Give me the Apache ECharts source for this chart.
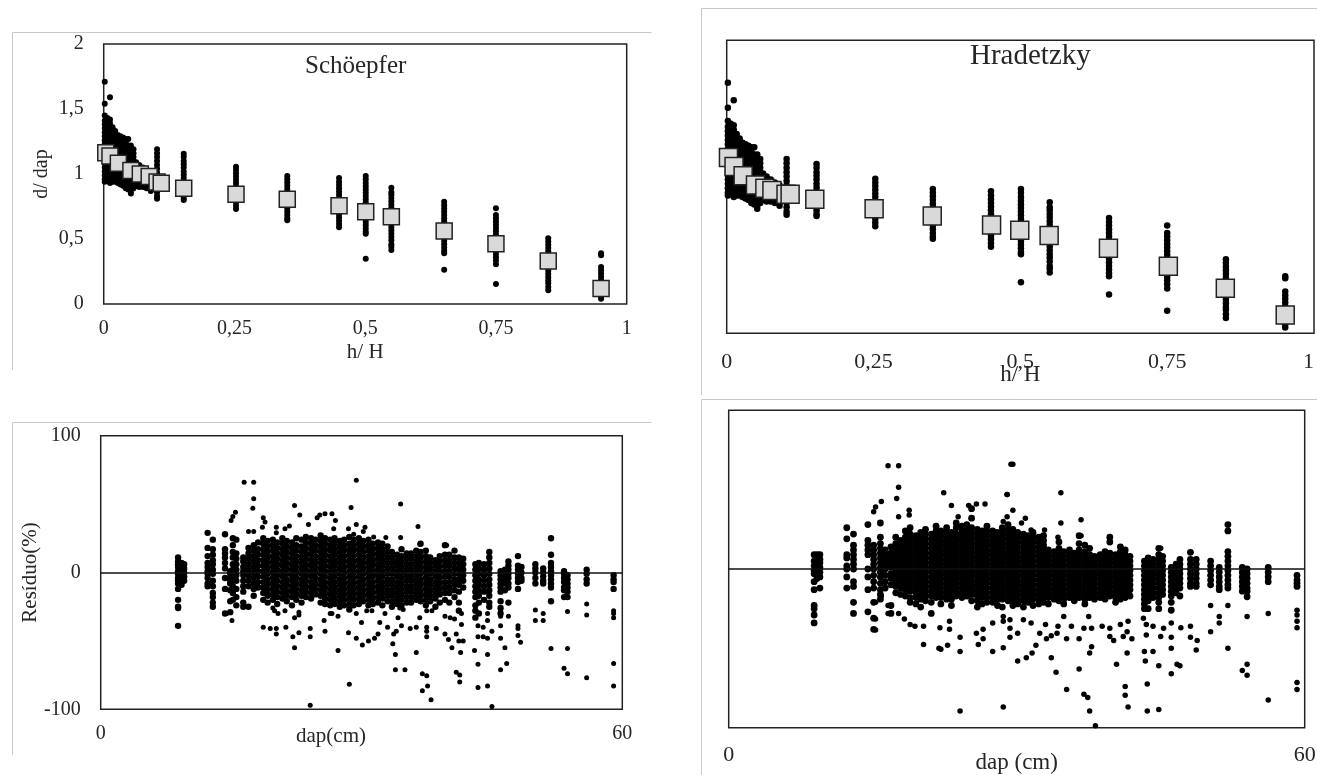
<!DOCTYPE html>
<html><head><meta charset="utf-8">
<script src="https://cdn.jsdelivr.net/npm/echarts@6/dist/echarts.min.js"></script>
<style>html,body{margin:0;padding:0;background:#fff}#c{width:1317px;height:775px}</style>
</head><body><div id="c"></div>
<script>
const hHTicks=['0','0,25','0,5','0,75','1'];
const dapTicks=['0','60'];
const measuredStations=[.002,.007,.012,.017,.022,.027,.032,.037,.042,.047,.052,.057,.062,.068,.075,.082,.09,.102,.153,.253,.351,.45,.501,.55,.651,.75,.85,.951];
const measuredRatios=[
[1.71,1.54,1.45,1.41,1.38,1.35,1.32,1.29,1.26,1.23,1.2,1.17,1.14,1.11,1.08,1.05,1.02,.99,.96,.94],
[1.43,1.4,1.37,1.34,1.31,1.28,1.25,1.22,1.19,1.16,1.13,1.1,1.07,1.04,1.01,.98,.95],
[1.59,1.42,1.39,1.36,1.33,1.3,1.27,1.24,1.21,1.18,1.15,1.12,1.09,1.06,1.03,1,.97,.93],
[1.36,1.33,1.3,1.27,1.24,1.21,1.18,1.15,1.12,1.09,1.06,1.03,1,.97,.94],
[1.33,1.3,1.27,1.24,1.21,1.18,1.15,1.12,1.09,1.06,1.03,1,.97,.94],
[1.3,1.27,1.24,1.21,1.18,1.15,1.12,1.09,1.06,1.03,1,.97,.93],
[1.29,1.26,1.23,1.2,1.17,1.14,1.11,1.08,1.05,1.02,.99,.96,.92],
[1.28,1.25,1.22,1.19,1.16,1.13,1.1,1.07,1.04,1.01,.98,.95,.91],
[1.27,1.24,1.21,1.18,1.15,1.12,1.09,1.06,1.03,1,.97,.94,.89],
[1.27,1.22,1.19,1.16,1.13,1.1,1.07,1.04,1.01,.98,.95,.92,.88],
[1.22,1.19,1.16,1.13,1.1,1.07,1.04,1.01,.98,.95,.91,.87,.85],
[1.19,1.16,1.13,1.1,1.07,1.04,1.01,.98,.95,.92,.89],
[1.09,1.06,1.03,1,.97,.94,.91],
[1.07,1.04,1.01,.98,.95,.92,.9],
[1.05,1.02,.99,.96,.93,.9],
[1.03,1,.97,.94,.91,.89],
[1.01,.98,.95,.92,.89,.87],
[1.19,1.16,1.13,1.1,1.07,1.04,1.01,.98,.95,.92,.89,.86,.83,.81],
[1.155,1.13,1.1,1.075,1.05,1.02,.995,.97,.94,.915,.89,.865,.84,.815,.8],
[1.055,1.03,1.005,.98,.955,.93,.905,.88,.855,.83,.805,.78,.755,.73],
[.985,.96,.935,.91,.885,.86,.835,.81,.785,.76,.735,.71,.685,.66,.645],
[.97,.94,.915,.89,.865,.84,.815,.79,.765,.74,.715,.69,.665,.64,.615,.59],
[.985,.96,.93,.905,.88,.855,.83,.805,.78,.755,.73,.705,.68,.655,.63,.605,.58,.555,.54,.349],
[.895,.86,.84,.815,.79,.765,.74,.715,.69,.665,.64,.615,.59,.565,.54,.515,.49,.46,.44,.415],
[.787,.76,.735,.71,.685,.66,.635,.61,.585,.56,.535,.51,.485,.46,.435,.41,.39,.264],
[.736,.685,.66,.635,.61,.585,.56,.535,.51,.485,.46,.435,.41,.385,.36,.335,.305,.154],
[.505,.48,.455,.43,.405,.38,.355,.33,.305,.28,.255,.23,.205,.18,.16,.13,.105],
[.39,.375,.285,.26,.235,.21,.185,.16,.135,.11,.085,.06,.04]
];
const schoepferMeanX=[.004,.012,.028,.052,.07,.087,.102,.11,.153,.253,.351,.45,.501,.55,.651,.75,.85,.951];
const schoepferMeanY=[1.164,1.138,1.082,1.026,1,.98,.938,.928,.89,.844,.805,.756,.71,.672,.562,.464,.33,.12];
const hradetzkyMeanX=[.003,.0125,.028,.049,.065,.077,.101,.108,.15,.251,.35,.451,.499,.549,.65,.752,.849,.951];
const hradetzkyMeanY=[1.2,1.138,1.076,1.012,.99,.974,.949,.949,.915,.851,.8,.74,.703,.667,.58,.457,.307,.125];

const schoepferDap=[8.9,9.3,9.6,12.3,12.9,14.3,14.9,15.2,15.6,16.4,17,17.6,18.1,18.7,19.2,19.8,20.3,20.9,21.4,22,22.5,23.1,23.6,24.2,24.7,25.3,25.8,26.4,26.9,27.5,28,28.6,29.1,29.7,30.2,30.8,31.3,31.9,32.4,33,33.5,34.1,34.6,35.2,35.7,36.3,36.8,37.4,37.9,38.5,39,39.6,40.1,40.7,41.2,41.7,43.1,43.5,44.1,44.7,46,46.5,46.9,48,48.4,50,50.9,51.8,53.3,53.7,55.9,59];
const schoepferResidual=[
[11,8,6,4,1,-1,-4,-6,-8,-12,-20,-25,-26,-39],
[7,4,2,0,-2,-5,-9],[6,3,0,-3,-6],
[29,18,12,7,4,1,-1,-4,-8,-10],
[24,17,13,9,6,2,-1,-6,-10,-15,-18,-22,-25],
[28,17,14,11,7,3,-4,-12,-30],
[1,-1,-4,-6,-8,-13,-29,-21],
[25,20,15,11,6,2,-2,-6,-10,-15,-20],
[24,14,10,6,2,-2,-6,-12,-18,-24],
[11,8,4,1,-2,-6,-10,-14,-22,-25],
[18,14,10,6,2,-2,-6,-10,-25],
[20,16,12,8,4,0,-4,-8,-12,-17],
[22,17,13,9,5,1,-3,-7,-11],
[25,21,17,13,9,5,1,-3,-7,-11,-15,-20],
[23,19,15,11,7,3,-1,-5,-9,-13,-17,-22],
[24,20,16,12,8,4,0,-4,-8,-12,-16,-20],
[22,18,14,10,6,2,-2,-6,-10,-14,-18,-23],
[25,21,17,13,9,5,1,-3,-7,-11,-15,-19],
[23,19,15,11,7,3,-1,-5,-9,-13,-17,-21],
[22,18,14,10,6,2,-2,-6,-10,-14,-18,-24],
[25,20,16,12,8,4,0,-4,-8,-12,-16,-20],
[24,19,15,11,7,3,-1,-5,-9,-13,-17,-22],
[26,22,18,14,10,6,2,-2,-6,-10,-14,-18],
[25,21,17,13,9,5,1,-3,-7,-11,-15,-19],
[24,20,16,12,8,4,0,-4,-8,-12,-16],
[27,23,19,15,11,7,3,-1,-5,-9,-13,-17,-22],
[25,21,17,13,9,5,1,-3,-7,-11,-15,-19,-23],
[24,20,16,12,8,4,0,-4,-8,-12,-16,-20,-24],
[25,21,17,13,9,5,1,-3,-7,-11,-15,-19,-23],
[23,19,15,11,7,3,-1,-5,-9,-13,-17,-21,-25],
[24,20,16,12,8,4,0,-4,-8,-12,-16,-20,-24],
[26,21,17,13,9,5,1,-3,-7,-11,-15,-19,-23,-27],
[24,20,16,12,8,4,0,-4,-8,-12,-16,-20,-24],
[25,21,17,13,9,5,1,-3,-7,-11,-15,-19,-23],
[23,19,15,11,7,3,-1,-5,-9,-13,-17,-21],
[24,20,16,12,8,4,0,-4,-8,-12,-16,-20,-24],
[21,17,13,9,5,1,-3,-7,-11,-15,-19,-23],
[22,18,14,10,6,2,-2,-6,-10,-14,-18,-22],
[21,17,13,9,5,1,-3,-7,-11,-15,-19,-24],
[19,15,11,7,3,-1,-5,-9,-13,-17,-21],
[15,11,7,3,-1,-5,-9,-13,-17,-21,-25],
[13,9,5,1,-3,-7,-11,-15,-19,-23],
[17,12,8,4,0,-4,-8,-12,-16,-20,-24],
[14,10,6,2,-2,-6,-10,-14,-18,-22],
[14,10,6,2,-2,-6,-10,-14,-18,-22],
[16,12,8,4,0,-4,-8,-12,-16,-20],
[21,15,11,7,3,-1,-5,-9,-13,-17,-21],
[16,12,8,4,0,-4,-8,-12,-16,-20,-24],
[11,7,3,-1,-5,-9,-13,-17,-21],
[9,5,1,-3,-7,-11,-15,-19,-25],
[12,8,4,0,-4,-8,-12,-16,-22],
[20,13,9,5,1,-3,-7,-11,-15,-20],
[13,9,5,1,-3,-7,-11,-15,-22],
[16,11,7,3,-1,-5,-9,-13,-18],
[11,7,3,-1,-5,-9,-14,-22,-28],
[10,6,2,-2,-6,-11],
[6,2,-2,-6,-10,-14,-18,-24,-28,-33],
[7,3,-1,-5,-9,-13,-17,-22,-30],
[6,2,-2,-6,-10,-14,-20],
[15,11,7,3,-1,-5,-9,-13,-17,-22,-25],
[1,-2,-5,-8,-11,-14,-21,-26,-30],
[2,-1,-4,-8,-13],
[8,5,2,-1,-4,-8,-11,-22],
[12,5,2,-1,-4,-7,-12],[4,0,-4,-6],
[6,3,0,-4,-8],[3,0,-3,-6,-8],
[25,13,7,4,1,-2,-5,-8,-11,-21],
[1,-1,-4,-7,-11,-13,-18],
[-2,-5,-8,-11,-14,-18],
[2,-1,-5,-8],[-2,-5,-7,-12]
];
const schoepferOutliers=[[15,38],[15.2,41],[15.5,44],[14.5,-30],[15.1,-35],[16.5,66],[17.6,66],[17.6,54],[17.5,47],[17,30],[17.6,30],[18.7,40],[18.9,37],[18.6,33],[22.3,49],[22.9,42],[25.8,43],[24.9,40],[25.2,42],[23.9,35],[21.7,34],[20.2,33],[20.2,29],[21.2,32],[18.7,-40],[19.5,-41],[20.2,-41],[20.2,-45],[21.3,-40],[22.1,-47],[22.3,-55],[22.8,-44],[24.1,-41],[24.1,-47],[24.1,-97],[25.8,-43],[25.7,-35],[26.4,-30],[22.3,-33],[22.8,-31],[22.8,-29],[20,-28],[20.4,-30],[21.2,-28],[19.8,-26],[26.6,43],[27,38],[26.8,32],[29.4,67.5],[28.8,47.5],[29.4,35],[28.5,32],[29.1,28],[30.4,33],[30.2,30],[31.4,26],[32.8,25.6],[34.5,50],[34.5,25.6],[36.5,33.6],[36.7,20.7],[39.8,20],[40.7,16],[27.3,-32],[27.3,-57],[28.6,-81.6],[28.5,-44],[29.4,-48],[30.1,-53],[30.8,-50],[31.5,-48],[31.9,-45],[32.1,-36.5],[33,-40],[33.6,-52],[33.7,-45],[34,-43],[33.9,-60],[33.9,-71],[35,-71],[34.6,-39],[35.6,-41],[36.3,-58.5],[36.3,-40],[37,-74],[37.5,-75.5],[37.6,-83],[37,-86.5],[38,-93],[37.5,-40],[37.5,-43],[37.5,-47],[38.6,-41],[39.6,-45],[40,-49],[40.4,-55],[41.4,-58.5],[40.9,-45],[41.2,-50],[41.7,-50],[40.9,-73],[41.3,-75],[41.3,-80],[43,-57],[43.4,-39],[43.4,-47],[43.4,-67],[43.4,-84],[44,-40],[44,-47],[44.5,-30],[44.5,-35],[44.5,-48],[44.5,-60],[44.5,-83],[45,-43],[45,-98],[36.7,-33],[37.5,-28],[38.1,-28],[39.6,-32],[40.2,-33],[40.7,-34],[41.5,-30],[41.5,-38],[29.4,-30],[30,-36.5],[30.6,-28],[31.2,-28],[32.7,-30],[34.2,-33],[34.4,-26],[34.8,-27],[26.6,-30],[46,-28],[46,-32],[46,-39],[46,-48],[46,-71],[46.5,-55],[46.7,-66.5],[46.9,-32],[48,-39],[48,-41],[48,-46],[48.3,-51],[48,12],[50,-27.5],[50,-35],[50.9,-30],[50.9,-35],[51.8,25],[51.8,-55.5],[53.3,-70],[53.7,-55.5],[53.7,-74],[53.7,-28.5],[55.9,-23],[55.9,-31],[55.9,-77],[59,-28],[59,-30],[59,-33],[59,-66.5],[59,-83]];

const hradetzkyDap=[8.9,9.2,9.5,12.3,13,14.5,15.1,15.8,16.3,16.9,17.4,17.9,18.4,18.9,19.5,20,20.5,21.1,21.6,22.1,22.7,23.2,23.7,24.3,24.8,25.3,25.9,26.4,26.9,27.5,28,28.5,29.1,29.6,30.1,30.7,31.2,31.7,32.3,32.8,33.3,33.9,34.4,34.9,35.5,36,36.5,37.1,37.6,38.1,38.7,39.2,39.7,40.3,40.8,41.3,41.8,43.3,43.7,44.2,44.8,45.2,46.1,46.6,47,48.1,48.7,50.2,51.1,52,53.5,54,56.2,59.2];
const hradetzkyResidual=[
[9,5,2,-1,-3,-8,-13,-23,-25,-29,-34],
[9,6,3,0,-2,-4,-6],[9,6,4,1,-2,-5,-12],
[26,19,9,7,2,0,-5,-12],
[22,15,12,9,6,3,0,-8,-11,-21,-28],
[28,18,15,12,9,0,-5,-13,-27],
[15,12,9,6,3,0,-4,-8,-12,-21,-31,-38],
[29,20,16,13,10,7,4,1,-2,-5,-9,-13,-16,-19],
[12,9,6,3,0,-4,-8,-12],
[14,10,7,4,1,-3,-6,-10,-23,-28],
[20,16,13,10,7,4,1,-2,-5,-8,-11,-15],
[18,15,12,9,6,3,0,-3,-6,-9,-12,-16],
[24,20,17,14,11,8,5,2,-1,-4,-7,-10,-13,-17],
[26,22,19,16,13,10,7,4,1,-2,-5,-8,-11,-14,-18,-21],
[21,18,15,12,9,6,3,0,-3,-6,-9,-12,-15,-18,-22],
[23,20,17,14,11,8,5,2,-1,-4,-7,-10,-13,-16,-19,-24],
[25,22,19,16,13,10,7,4,1,-2,-5,-8,-11,-14,-17,-20],
[22,19,16,13,10,7,4,1,-2,-5,-8,-11,-14,-17,-21,-28],
[27,24,21,18,15,12,9,6,3,0,-3,-6,-9,-12,-15,-18],
[24,21,18,15,12,9,6,3,0,-3,-6,-9,-12,-15,-18,-22],
[26,23,20,17,14,11,8,5,2,-1,-4,-7,-10,-13,-16,-19],
[23,20,17,14,11,8,5,2,-1,-4,-7,-10,-13,-16,-19,-23],
[29,26,22,19,16,13,10,7,4,1,-2,-5,-8,-11,-14,-17],
[27,24,21,18,15,12,9,6,3,0,-3,-6,-9,-12,-15,-18],
[28,25,22,19,16,13,10,7,4,1,-2,-5,-8,-11,-14,-17],
[38,32,26,23,20,17,14,11,8,5,2,-1,-4,-7,-10,-13,-16,-20],
[25,22,19,16,13,10,7,4,1,-2,-5,-8,-11,-14,-17,-20,-24],
[24,21,18,15,12,9,6,3,0,-3,-6,-9,-12,-15,-18,-22],
[27,24,21,18,15,12,9,6,3,0,-3,-6,-9,-12,-15,-18,-21],
[24,21,18,15,12,9,6,3,0,-3,-6,-9,-12,-15,-18,-21],
[23,20,17,14,11,8,5,2,-1,-4,-7,-10,-13,-16,-19,-23],
[26,23,20,17,14,11,8,5,2,-1,-4,-7,-10,-13,-16,-19,-24],
[28,25,22,19,16,13,10,7,4,1,-2,-5,-8,-11,-14,-17,-20],
[25,22,19,16,13,10,7,4,1,-2,-5,-8,-11,-14,-17,-20,-23],
[23,20,17,14,11,8,5,2,-1,-4,-7,-10,-13,-16,-19,-22],
[22,19,16,13,10,7,4,1,-2,-5,-8,-11,-14,-17,-20,-24],
[21,18,15,12,9,6,3,0,-3,-6,-9,-12,-15,-18,-21],
[23,20,17,14,11,8,5,2,-1,-4,-7,-10,-13,-16,-19,-23],
[20,17,14,11,8,5,2,-1,-4,-7,-10,-13,-16,-19,-22],
[21,18,15,12,9,6,3,0,-3,-6,-9,-12,-15,-18,-21],
[12,9,6,3,0,-3,-6,-9,-12,-15,-18,-22],
[11,8,5,2,-1,-4,-7,-10,-13,-16,-19],
[17,13,10,7,4,1,-2,-5,-8,-11,-14,-17,-20],
[11,8,5,2,-1,-4,-7,-10,-13,-16,-19,-22],
[12,9,6,3,0,-3,-6,-9,-12,-15,-18],
[10,7,4,1,-2,-5,-8,-11,-14,-17,-20],
[21,16,12,9,6,3,0,-3,-6,-9,-12,-15,-18],
[15,11,8,5,2,-1,-4,-7,-10,-13,-16,-19,-22],
[13,9,6,3,0,-3,-6,-9,-12,-15,-18],
[8,5,2,-1,-4,-7,-10,-13,-16,-19],
[9,6,3,0,-3,-6,-9,-12,-15,-18],
[11,8,5,2,-1,-4,-7,-10,-13,-16,-19],
[20,17,10,7,4,1,-2,-5,-8,-11,-14,-17],
[9,6,3,0,-3,-6,-9,-12,-15,-18,-21],
[14,11,8,5,2,-1,-4,-7,-10,-13,-16,-19],
[12,9,6,3,0,-3,-6,-9,-12,-15,-18],
[8,5,2,-1,-4,-7,-10,-13,-17],
[5,2,-1,-4,-7,-10,-13,-16,-19,-22,-25],
[7,4,1,-2,-5,-8,-11,-14,-17,-20,-25],
[6,3,0,-3,-6,-9,-12,-15,-18],
[13,9,6,3,0,-3,-6,-9,-12,-15,-18,-21,-25],
[8,5,2,-1,-4,-7,-10,-13,-16],
[1,-2,-5,-8,-11,-14,-17,-21,-26],
[3,0,-3,-6,-9,-12,-15],
[6,3,0,-3,-6,-9,-12,-17],
[10.5,6,3,0,-3,-6,-9,-11],
[6,3,0,-3,-6,-9,-11],
[5,2,-1,-4,-7,-10],
[1,-2,-5,-8,-11,-13],
[28,24,11,8,5,2,-1,-4,-7,-10,-12],
[1,-2,-5,-8,-11,-14],
[0,-3,-6,-9,-12,-14,-17.5],
[1,-2,-5,-8],
[-4,-7,-9,-11]
];
const hradetzkyOutliers=[[15.1,36],[15.3,39],[15.9,42.5],[15.3,-21],[15.3,-31.5],[15.3,-38.5],[15.9,-17],[16.6,65],[17.7,65],[17.7,51.5],[17.5,44.5],[17.7,33],[16.6,-23],[16.6,-28],[17.7,-28],[18.3,-31.5],[18.9,-35],[19.4,-36],[20.3,-47.5],[20.3,-36],[21.9,-50],[22.1,-50.5],[22.8,-48],[22,-37],[23,-33],[23,-38],[24.1,-43],[24.1,-52],[24.1,-89.5],[25.8,-40.5],[26,-47.5],[26.5,-44],[26.5,-38],[27.5,-52],[27.5,-34],[28.6,-49.6],[28.6,-87],[22.4,48],[23.2,40],[25,40],[25.8,41],[26.7,41],[29,47],[29.4,66],[18.8,37],[18.8,34],[23.9,33],[29.6,66],[29,47],[29.6,37],[29,33],[28.6,30],[30.9,32],[30.5,29],[31.5,24.6],[32.9,24.6],[34.6,48],[34.6,29],[36.7,31],[34.3,20],[36.7,21],[39.7,20],[40.8,14],[30.1,-58],[31,-56],[31.6,-53],[32,-48],[34.1,-65],[33.6,-56],[35.2,-76],[36.5,-63],[37,-79],[37.4,-81],[37.6,-89.5],[38.2,-98.7],[37.6,-53],[37.8,-49],[40.4,-60],[41.3,-74],[41.3,-79.5],[41.6,-87],[41.5,-53],[43.3,-52],[44.2,-52],[43.4,-58],[43.6,-72.5],[43.6,-89.5],[44.8,-88.5],[44.8,-61],[46.1,-66],[46.7,-60],[47,-61],[46.1,-50],[46.1,-43],[46.1,-34],[47.1,-37],[48.1,-36],[48.1,-43],[48.8,-45],[48.7,-51],[50.2,-39.5],[50.2,-23],[51.1,-30],[51.1,-34],[52,-23],[52,-50],[53.5,-64],[54,-67],[54,-60],[54,-30],[56.2,-28],[56.2,-82.5],[56.2,1],[56.2,-3],[56.2,-6],[59.2,-4],[59.2,-7],[59.2,-10],[59.2,-26],[59.2,-29],[59.2,-33],[59.2,-37],[59.2,-71.5],[59.2,-76],[48.1,10.5],[45,13],[28.6,-30],[28.6,-33],[29.3,-32],[29.3,-37.4],[29.3,-43],[30.1,-40.5],[30.7,-32],[31.5,-34],[32.4,-40.5],[33,-35],[33.1,-44],[33.6,-42],[34.2,-40.5],[34.3,-36],[34.9,-30],[35.2,-44],[35.7,-36],[36.5,-44],[37,-37.4],[37.5,-30],[37.8,-37.4],[38.9,-36],[39.7,-37.4],[39.7,-42.6],[40.1,-45],[40.8,-35],[41.1,-42.6],[41.5,-39.5],[42,-44],[41.6,-33],[43.2,-31],[43.5,-35],[43.5,-41.6],[44.2,-36],[45,-42.6],[45.3,-37.4]];

const flatten=(xs,ys)=>xs.flatMap((x,i)=>ys[i].map(y=>[x,y]));
const zip=(xs,ys)=>xs.map((x,i)=>[x,ys[i]]);
const FONT='"Liberation Serif"';
const TXT='#262626';
const grids=[
 {left:103.7,top:44,width:523,height:260},
 {left:726.7,top:40.3,width:587.3,height:293},
 {left:100.7,top:435.7,width:521.6,height:273.6},
 {left:728.7,top:410.3,width:576,height:317.4}
].map(g=>({...g,show:true,borderColor:'#222',borderWidth:1.5,backgroundColor:'transparent',containLabel:false,outerBoundsMode:'none'}));
const lab=(size,margin,extra)=>({fontFamily:FONT,fontSize:size,color:TXT,margin,...extra});
const hHFmt=v=>hHTicks[Math.round(v/0.25)];
const dapFmt=v=>v===0?dapTicks[0]:dapTicks[1];
const xBase={type:'value',splitLine:{show:false},axisLine:{show:false,onZero:false},axisTick:{show:false},nameLocation:'middle',nameMoveOverlap:false};
const yBase={type:'value',splitLine:{show:false},axisLine:{show:false,onZero:false},axisTick:{show:false},nameLocation:'middle',nameRotate:90,nameMoveOverlap:false};
const nameStyle=(size,extra)=>({fontFamily:FONT,fontSize:size,color:TXT,...extra});
const dots=(x,data,size)=>({type:'scatter',xAxisIndex:x,yAxisIndex:x,data,symbolSize:size,itemStyle:{color:'#000',opacity:1},clip:false,z:2});
const means=(x,data,size)=>({type:'scatter',xAxisIndex:x,yAxisIndex:x,data,symbol:'rect',symbolSize:size,itemStyle:{color:'#d9d9d9',borderColor:'#222',borderWidth:1.5,opacity:1},clip:false,z:3});
const zeroLine={silent:true,symbol:'none',label:{show:false},lineStyle:{color:'#111',width:1.5,type:'solid'},data:[{yAxis:0}]};
const option={
 animation:false,backgroundColor:'#fff',
 grid:grids,
 title:[
  {text:'Schöepfer',left:305,top:54,padding:0,textStyle:{fontFamily:FONT,fontSize:25,fontWeight:'normal',color:TXT}},
  {text:'Hradetzky',left:970,top:42,padding:0,textStyle:{fontFamily:FONT,fontSize:29,fontWeight:'normal',color:TXT}}
 ],
 xAxis:[
  {...xBase,gridIndex:0,min:0,max:1,interval:.25,axisLabel:lab(20,15,{formatter:hHFmt}),name:'h/ H',nameGap:38,nameTextStyle:nameStyle(21)},
  {...xBase,gridIndex:1,min:0,max:1,interval:.25,axisLabel:lab(22,18,{formatter:hHFmt,alignMaxLabel:'right'}),name:'h/ H',nameGap:30,nameTextStyle:nameStyle(23)},
  {...xBase,gridIndex:2,min:0,max:60,interval:60,axisLabel:lab(20,14,{formatter:dapFmt}),name:'dap(cm)',nameGap:17,nameTextStyle:nameStyle(21,{padding:[0,61,0,0]})},
  {...xBase,gridIndex:3,min:0,max:60,interval:60,axisLabel:lab(22,17,{formatter:dapFmt}),name:'dap (cm)',nameGap:24,nameTextStyle:nameStyle(23)}
 ],
 yAxis:[
  {...yBase,gridIndex:0,min:0,max:2,interval:.5,axisLabel:lab(20,20,{formatter:v=>String(v).replace('.',',')}),name:'d/ dap',nameGap:52,nameTextStyle:nameStyle(20)},
  {...yBase,gridIndex:1,min:0,max:2,interval:.5,axisLabel:{show:false}},
  {...yBase,gridIndex:2,min:-100,max:100,interval:100,axisLabel:lab(20,20),name:'Resíduo(%)',nameGap:60,nameTextStyle:nameStyle(21)},
  {...yBase,gridIndex:3,min:-100,max:100,interval:100,axisLabel:{show:false}}
 ],
 series:[
  dots(0,flatten(measuredStations,measuredRatios),6),
  means(0,zip(schoepferMeanX,schoepferMeanY),16),
  dots(1,flatten(measuredStations,measuredRatios),6.5),
  means(1,zip(hradetzkyMeanX,hradetzkyMeanY),18),
  {...dots(2,flatten(schoepferDap,schoepferResidual),6.4),z:3,markLine:zeroLine},
  {...dots(2,schoepferOutliers,5),z:3},
  {...dots(3,flatten(hradetzkyDap,hradetzkyResidual),6.8),z:3,markLine:zeroLine},
  {...dots(3,hradetzkyOutliers,5.5),z:3}
 ],
 graphic:[
  [12.5,32.5,651.5,32.5],[12.5,32.5,12.5,370],
  [12.5,422.5,651.5,422.5],[12.5,422.5,12.5,755],
  [701.5,8.5,1317,8.5],[701.5,8.5,701.5,395],
  [701.5,399.5,1317,399.5],[701.5,399.5,701.5,775]
 ].map(s=>({type:'line',shape:{x1:s[0],y1:s[1],x2:s[2],y2:s[3]},style:{stroke:'#c8c8c8',lineWidth:1},silent:true}))
};
echarts.init(document.getElementById('c'),null,{renderer:'canvas'}).setOption(option);
</script></body></html>
